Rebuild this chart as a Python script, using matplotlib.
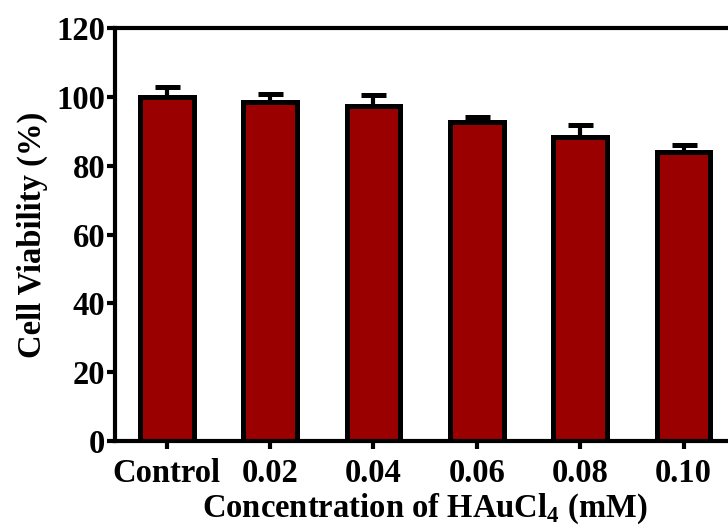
import numpy as np
from matplotlib import pyplot as plt

labels = ['Control', '0.02', '0.04', '0.06', '0.08', '0.10']
viability = [99.9, 98.6, 97.2, 92.7, 88.2, 83.9]
err = [3.0, 2.3, 3.3, 1.3, 3.5, 2.1]

plt.rcParams['font.family'] = ['Liberation Serif', 'DejaVu Serif']
plt.rcParams['font.weight'] = 'bold'
plt.rcParams['mathtext.fontset'] = 'custom'
plt.rcParams['mathtext.rm'] = 'Liberation Serif:bold'
plt.rcParams['mathtext.bf'] = 'Liberation Serif:bold'

fig = plt.figure(figsize=(7.28, 5.27), dpi=100)
ax = fig.add_axes([0.158, 0.163, 0.852, 0.784])

x = np.arange(len(labels))
ax.bar(x, viability, width=0.52, color='#9b0000', edgecolor='black',
       linewidth=3.6, zorder=2)
ax.errorbar(x, viability, yerr=[np.zeros(len(err)), err], fmt='none',
            ecolor='black', elinewidth=3, capsize=9, capthick=3.6, zorder=1)

ax.set_xlim(-0.5, 5.5)
ax.set_ylim(0, 120)
ax.set_yticks(np.arange(0, 121, 20))
ax.set_xticks(x)
ax.set_xticklabels(labels)

for s in ax.spines.values():
    s.set_linewidth(3)
ax.tick_params(width=3, length=6, labelsize=23.5)
ax.tick_params(axis='y', pad=1)
ax.tick_params(axis='x', pad=6)

ax.set_ylabel('Cell Viability (%)', fontsize=23.5, fontweight='bold', labelpad=6)
ax.set_xlabel(r'Concentration of HAuCl$_4$ (mM)', fontsize=23.5,
              fontweight='bold', labelpad=2)

plt.savefig('out.png', dpi=100)
